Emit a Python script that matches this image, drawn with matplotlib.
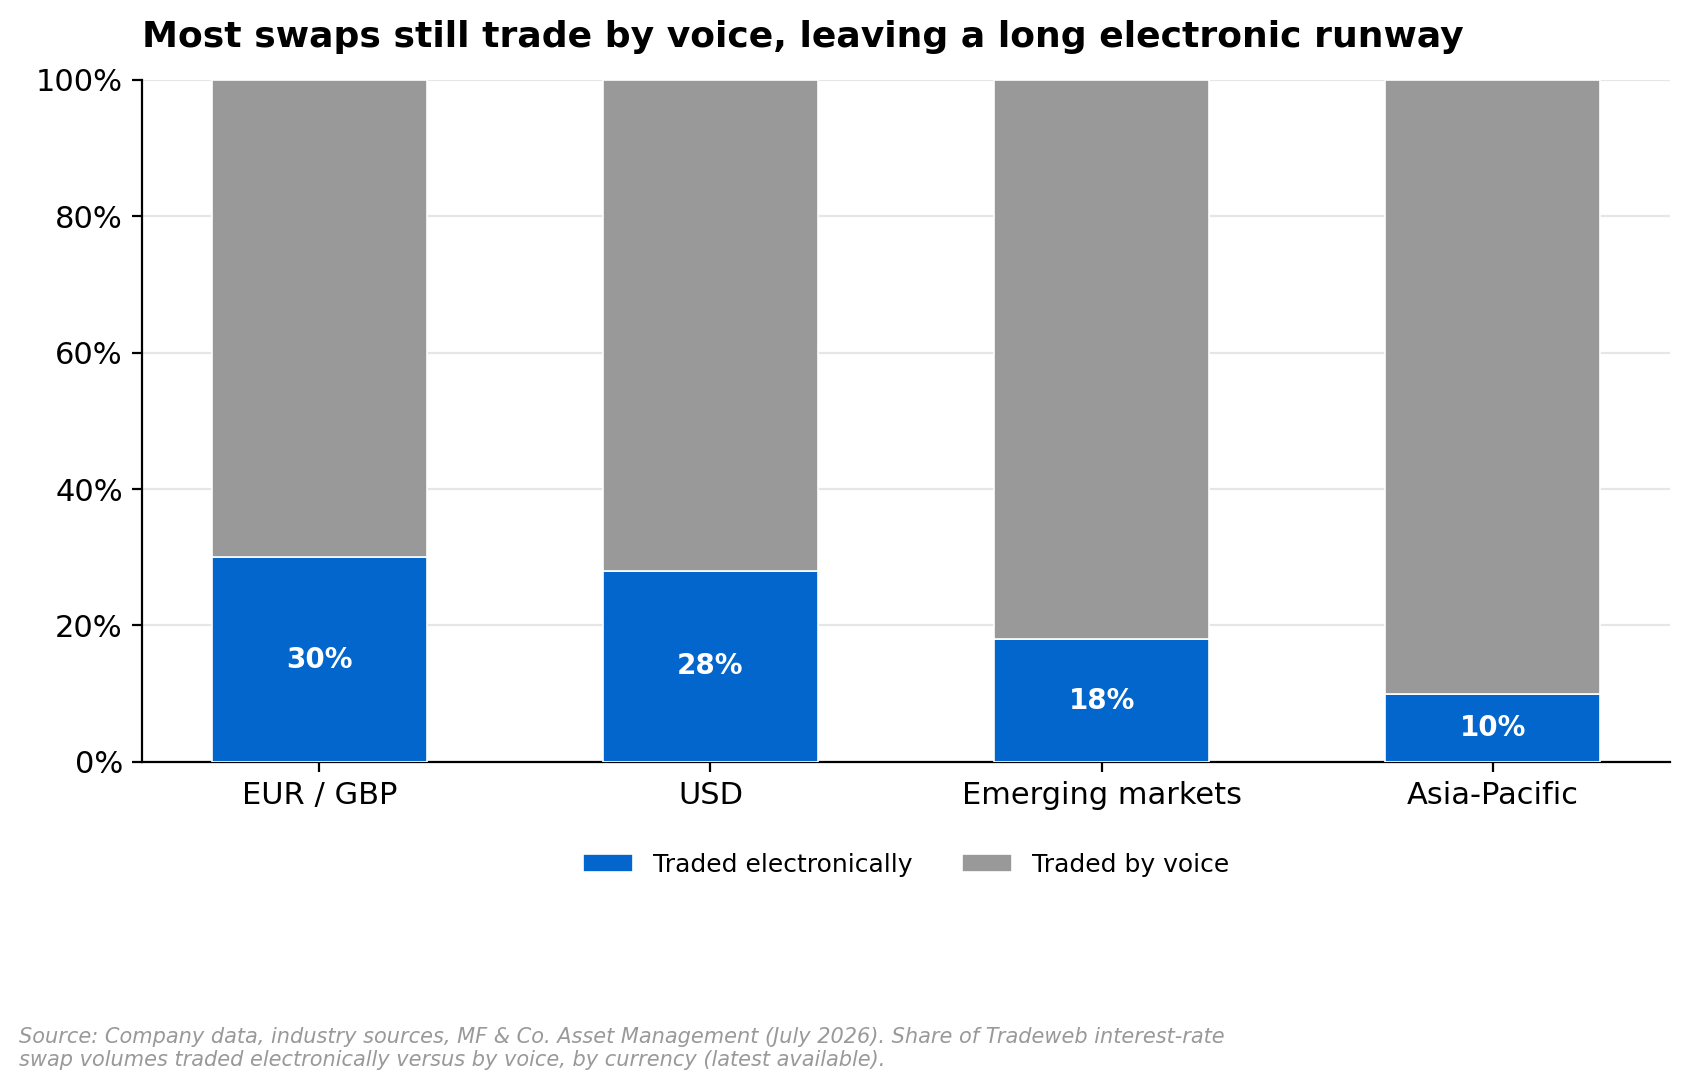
import matplotlib
matplotlib.use("Agg")
import matplotlib.pyplot as plt
from matplotlib.ticker import PercentFormatter

plt.rcParams["font.family"] = "DejaVu Sans"

# 資料
categories = ["EUR / GBP", "USD", "Emerging markets", "Asia-Pacific"]
electronic = [30, 28, 18, 10]
voice = [70, 72, 82, 90]

blue = "#0366cc"
grey = "#999999"

fig = plt.figure(figsize=(8.45, 5.455), dpi=200)
ax = fig.add_axes([0.0842, 0.3016, 0.9038, 0.6254])

x = range(len(categories))
bars_e = ax.bar(x, electronic, width=0.55, color=blue, edgecolor="white",
                linewidth=0.6, label="Traded electronically", zorder=3)
ax.bar(x, voice, width=0.55, bottom=electronic, color=grey, edgecolor="white",
       linewidth=0.6, label="Traded by voice", zorder=3)

# 數值標籤
for b, v in zip(bars_e, electronic):
    ax.text(b.get_x() + b.get_width() / 2, v / 2, f"{v}%", ha="center", va="center",
            color="white", fontsize=10, fontweight="bold", zorder=4)

ax.set_ylim(0, 100)
ax.set_yticks(range(0, 101, 20))
ax.yaxis.set_major_formatter(PercentFormatter(decimals=0))
ax.set_xticks(list(x))
ax.set_xticklabels(categories)
ax.tick_params(axis="both", labelsize=11)
ax.grid(axis="y", color="#e6e6e6", linewidth=0.8, zorder=0)
ax.spines["top"].set_visible(False)
ax.spines["right"].set_visible(False)

fig.text(0.0842, 0.966, "Most swaps still trade by voice, leaving a long electronic runway",
         fontsize=13, fontweight="bold", ha="left", va="center")

ax.legend(loc="upper center", bbox_to_anchor=(0.5, -0.1), ncol=2, frameon=False,
          fontsize=9, handlelength=2.0, handleheight=0.7, columnspacing=2.0)

fig.text(0.011, 0.039,
         "Source: Company data, industry sources, MF & Co. Asset Management (July 2026). Share of Tradeweb interest-rate\n"
         "swap volumes traded electronically versus by voice, by currency (latest available).",
         fontsize=7.5, style="italic", color="#999999", ha="left", va="center", linespacing=1.2)

fig.savefig("out.png", dpi=200)
